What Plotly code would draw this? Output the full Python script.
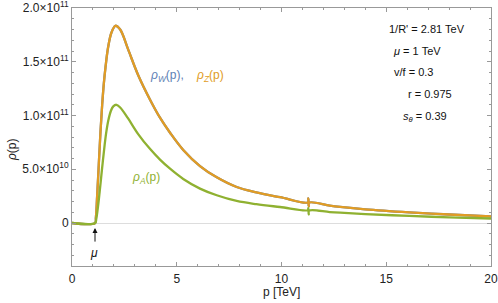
import plotly.graph_objects as go

# ---- data ----
p_Z = [0, 1.10, 1.14, 1.20, 1.28, 1.36, 1.44, 1.52, 1.60, 1.72, 1.88, 2.07, 2.30, 2.67, 3.15, 3.72,
       4.20, 4.68, 5.31, 6.11, 6.91, 7.86, 8.80, 9.93, 11.26, 11.28, 11.30, 11.32, 12.3, 12.8,
       14.0, 16.1, 18.0, 20.0]
rho_Z = [0, 0, 0.05e11, 0.25e11, 0.55e11, 0.85e11, 1.10e11, 1.30e11, 1.45e11, 1.63e11, 1.77e11,
         1.835e11, 1.80e11, 1.62e11, 1.38e11, 1.15e11, 0.98e11, 0.84e11, 0.68e11, 0.53e11, 0.425e11,
         0.335e11, 0.285e11, 0.240e11, 0.192e11, 0.23e11, 0.155e11, 0.19e11, 0.162e11, 0.150e11,
         0.127e11, 0.099e11, 0.079e11, 0.062e11]
# rho_W coincides with rho_Z (drawn underneath)
p_W = list(p_Z)
rho_W = list(rho_Z)

p_A = [0, 1.10, 1.16, 1.24, 1.32, 1.40, 1.48, 1.56, 1.64, 1.74, 1.85, 1.97, 2.12, 2.30, 2.67,
       3.15, 3.72, 4.20, 4.68, 5.31, 6.11, 6.91, 7.86, 8.80, 9.93, 11.26, 11.28, 11.30, 11.32,
       12.3, 12.8, 14.0, 16.1, 18.0, 20.0]
rho_A = [0, 0, 0.04e11, 0.15e11, 0.29e11, 0.44e11, 0.59e11, 0.73e11, 0.85e11, 0.96e11, 1.04e11,
         1.085e11, 1.10e11, 1.075e11, 0.975e11, 0.83e11, 0.69e11, 0.59e11, 0.505e11, 0.41e11,
         0.32e11, 0.258e11, 0.205e11, 0.175e11, 0.149e11, 0.120e11, 0.138e11, 0.080e11, 0.115e11,
         0.102e11, 0.096e11, 0.083e11, 0.066e11, 0.053e11, 0.042e11]

y_tickvals = [0, 5e10, 1e11, 1.5e11, 2e11]
y_ticktext = ["0", "5.0×10<sup>10</sup>", "1.0×10<sup>11</sup>", "1.5×10<sup>11</sup>", "2.0×10<sup>11</sup>"]
x_tickvals = [0, 5, 10, 15, 20]

params = ["1/R' = 2.81 TeV", "<i>μ</i> = 1 TeV", "v/f = 0.3", "r = 0.975", "<i>s<sub>θ</sub></i> = 0.39"]

BLUE = "#5E81B5"
ORANGE = "#E19C24"
GREEN = "#8FB131"
FONT = "Liberation Sans"

# plot-area geometry (pixels)
L, R, T, B = 72, 491, 8, 266
W, H = 498, 303

def px_x(px):
    return (px - 72) / 20.95

def px_y(py):
    return (223 - py) * 9.346e8

fig = go.Figure()
for xs, ys, col in [(p_W, rho_W, BLUE), (p_Z, rho_Z, ORANGE), (p_A, rho_A, GREEN)]:
    fig.add_trace(go.Scatter(x=xs, y=ys, mode="lines",
                             line=dict(color=col, width=2.3, shape="spline", smoothing=1),
                             hoverinfo="skip", showlegend=False))

ann = []
ann.append(dict(x=px_x(148), y=px_y(77), text="<i>ρ<sub>W</sub></i>(p),", showarrow=False,
                xanchor="left", font=dict(color=BLUE, size=12, family=FONT)))
ann.append(dict(x=px_x(194), y=px_y(77), text="<i>ρ<sub>Z</sub></i>(p)", showarrow=False,
                xanchor="left", font=dict(color=ORANGE, size=12, family=FONT)))
ann.append(dict(x=px_x(130), y=px_y(178), text="<i>ρ<sub>A</sub></i>(p)", showarrow=False,
                xanchor="left", font=dict(color=GREEN, size=12, family=FONT)))
for txt, cx, cy in zip(params, [427, 417, 413, 430, 425], [30, 52, 73, 95, 117]):
    ann.append(dict(x=px_x(cx), y=px_y(cy), text=txt, showarrow=False, xanchor="center",
                    font=dict(color="#111", size=11, family=FONT)))
# mu arrow
ann.append(dict(x=px_x(95), y=px_y(228), ax=px_x(95), ay=px_y(243), axref="x", ayref="y",
                text="", showarrow=True, arrowhead=2, arrowsize=1, arrowwidth=1, arrowcolor="#111"))
ann.append(dict(x=px_x(94), y=px_y(253), text="<i>μ</i>", showarrow=False,
                font=dict(color="#111", size=12, family=FONT)))
for a in ann:
    a.setdefault("xref", "x")
    a.setdefault("yref", "y")
# axis titles
ann.append(dict(xref="paper", yref="paper", x=(281 - L) / (R - L), y=(B - 292) / (B - T),
                xanchor="center", yanchor="middle",
                text="p [TeV]", showarrow=False, font=dict(size=12, family=FONT, color="#222")))
ann.append(dict(xref="paper", yref="paper", x=(12 - L) / (R - L), y=(B - 150) / (B - T),
                xanchor="center", yanchor="middle",
                text="<i>ρ</i>(p)", textangle=-90, showarrow=False,
                font=dict(size=12, family=FONT, color="#222")))

axis_common = dict(showline=True, linecolor="#999", linewidth=1, mirror="ticks", ticks="inside",
                   tickcolor="#999", ticklen=4, showgrid=False, automargin=False,
                   ticklabeloverflow="allow",
                   tickfont=dict(size=12, family=FONT, color="#222"))

fig.update_layout(
    width=W, height=H,
    margin=dict(l=L, r=W - R, t=T, b=H - B, pad=0),
    paper_bgcolor="white", plot_bgcolor="white",
    font=dict(family=FONT, color="#222"),
    annotations=ann,
    xaxis=dict(range=[0, 20], tickvals=x_tickvals, zeroline=False, ticklabelstandoff=2,
               minor=dict(dtick=1, ticks="inside", ticklen=2, tickcolor="#999"),
               **axis_common),
    yaxis=dict(range=[-4e10, 2.0005e11], tickvals=y_tickvals, ticktext=y_ticktext,
               zeroline=True, zerolinecolor="#ddd", zerolinewidth=1,
               minor=dict(tickvals=[v * 1e10 for v in range(-4, 20)], ticks="inside", ticklen=2,
                          tickcolor="#999"),
               **axis_common),
)
fig.write_html("out.html", config={"displayModeBar": False},
               post_script="document.body.style.margin='0';document.body.style.overflow='hidden';")
